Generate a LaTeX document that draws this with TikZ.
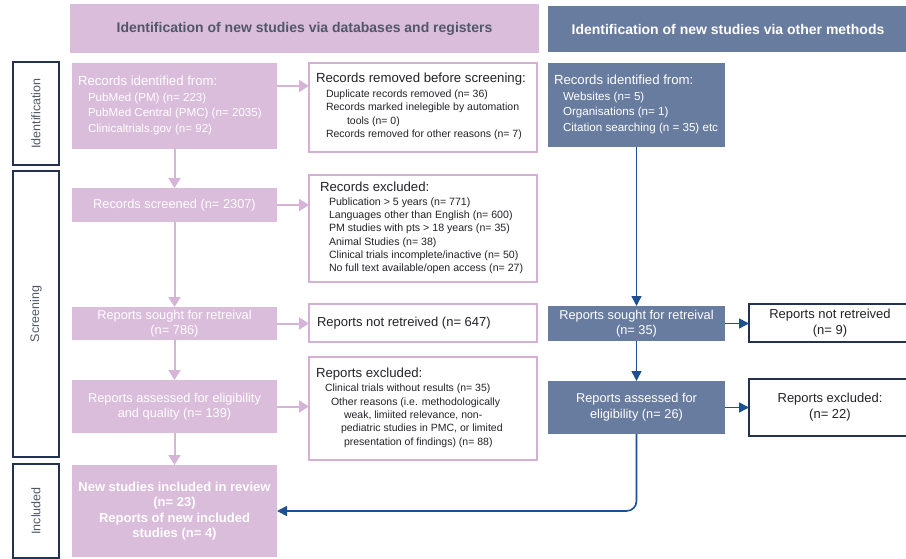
\documentclass[tikz,border=0pt]{standalone}
\usepackage{fontspec}
\setmainfont{Liberation Sans}
\usetikzlibrary{arrows.meta}
\definecolor{pinkfill}{RGB}{218,188,219}
\definecolor{pinkline}{RGB}{212,176,213}
\definecolor{pinkarrow}{RGB}{214,180,215}
\definecolor{slate}{RGB}{104,124,160}
\definecolor{navy}{RGB}{35,50,80}
\definecolor{arrowblue}{RGB}{28,80,145}
\definecolor{headtext}{RGB}{80,88,104}
\definecolor{bodytext}{RGB}{35,35,40}
\newcommand\fsz[2]{\fontsize{#1}{#2}\selectfont}
% left-aligned block of lines inside a fixed width
\newcommand\lblock[2]{\makebox[#1][l]{\begin{tabular}{@{}l@{}}#2\end{tabular}}}
\newcommand\hd[1]{\fsz{13.2}{15}#1}
\newcommand\sbi[2]{\hspace*{#1}#2}
\begin{document}
\begin{tikzpicture}[x=1pt,y=-1pt,
  every node/.style={inner sep=0pt, outer sep=0pt},
  pinkbox/.style={fill=pinkfill, text=white},
  wbox/.style={fill=white, draw=pinkline, line width=2.2pt, text=bodytext},
  bluebox/.style={fill=slate, text=white},
  bwbox/.style={fill=white, draw=navy, line width=2.2pt, text=bodytext},
  sidebox/.style={fill=white, draw=navy, line width=1.8pt, text=headtext, rotate=90, font=\fsz{12.5}{15}},
  parrow/.style={draw=pinkarrow, line width=2pt, -{Triangle[length=10pt,width=12pt]}},
  barrow/.style={draw=arrowblue, line width=1.6pt, -{Triangle[length=10pt,width=10pt]}},
  ]
\useasboundingbox (0,0) rectangle (906,559);

% headers
\node[fill=pinkfill, minimum width=469, minimum height=49, text=headtext, font=\bfseries\fsz{14}{17}] (hpink) at (304.5,29) {Identification of new studies via databases and registers};
\node[bluebox, minimum width=360, minimum height=46, font=\bfseries\fsz{14}{17}] (hblue) at (728,29) {Identification of new studies via other methods};

% side labels
\node[sidebox, minimum width=103, minimum height=46] (sid) at (36,113.5) {Identification};
\node[sidebox, minimum width=286, minimum height=46] (sscr) at (36,314) {Screening};
\node[sidebox, minimum width=94, minimum height=46] (sinc) at (36,511) {Included};

% pink column
\node[pinkbox, minimum width=205, minimum height=86, font=\fsz{11.6}{15.5}] (prec) at (174.5,106)
  {\lblock{193pt}{\hd{Records identified from:}\\
   \sbi{10pt}{PubMed (PM) (n= 223)}\\
   \sbi{10pt}{PubMed Central (PMC) (n= 2035)}\\
   \sbi{10pt}{Clinicaltrials.gov (n= 92)}}};
\node[pinkbox, minimum width=205, minimum height=34, align=center, font=\fsz{12.8}{15.5}] (pscr) at (174.5,205) {Records screened (n= 2307)};
\node[pinkbox, minimum width=205, minimum height=33, align=center, font=\fsz{12.8}{15.5}] (psought) at (174.5,323.5) {Reports sought for retreival\\(n= 786)};
\node[pinkbox, minimum width=205, minimum height=53, align=center, font=\fsz{12.8}{15.5}] (passess) at (174.5,406.5) {Reports assessed for eligibility\\and quality (n= 139)};
\node[pinkbox, minimum width=205, minimum height=92, align=center, font=\bfseries\fsz{13}{15.5}] (pnew) at (174.5,511) {New studies included in review\\(n= 23)\\Reports of new included\\studies (n= 4)};

% white boxes (pink border)
\node[wbox, minimum width=228, minimum height=89, font=\fsz{10.5}{13.5}] (rem) at (423,107.5)
  {\lblock{214pt}{\hd{Records removed before screening:}\\[1pt]
   \sbi{10pt}{Duplicate records removed (n= 36)}\\
   \sbi{10pt}{Records marked inelegible by automation}\\
   \sbi{31pt}{tools (n= 0)}\\
   \sbi{10pt}{Records removed for other reasons (n= 7)}}};
\node[wbox, minimum width=228, minimum height=107, font=\fsz{10.6}{13.2}] (exc1) at (423,228.5)
  {\raisebox{-2pt}{\lblock{206pt}{\hd{Records excluded:}\\[1pt]
   \sbi{9pt}{Publication > 5 years (n= 771)}\\
   \sbi{9pt}{Languages other than English (n= 600)}\\
   \sbi{9pt}{PM studies with pts > 18 years (n= 35)}\\
   \sbi{9pt}{Animal Studies (n= 38)}\\
   \sbi{9pt}{Clinical trials incomplete/inactive (n= 50)}\\
   \sbi{9pt}{No full text available/open access (n= 27)}}}};
\node[wbox, minimum width=228, minimum height=38, font=\fsz{13}{15}] (nr) at (423,323)
  {\lblock{212pt}{Reports not retreived (n= 647)}};
\node[wbox, minimum width=228, minimum height=103, font=\fsz{10.5}{13.3}] (exc2) at (423,408.5)
  {\lblock{214pt}{\hd{Reports excluded:}\\[1pt]
   \sbi{9pt}{Clinical trials without results (n= 35)}\\
   \sbi{15pt}{Other reasons (i.e. methodologically}\\
   \sbi{28pt}{weak, limiited relevance, non-}\\
   \sbi{25pt}{pediatric studies in PMC, or limited}\\
   \sbi{28pt}{presentation of findings) (n= 88)}}};

% blue column
\node[bluebox, minimum width=177, minimum height=84, font=\fsz{11.6}{15.5}] (brec) at (636.5,105)
  {\raisebox{-2pt}{\lblock{165pt}{\hd{Records identified from:}\\
   \sbi{9pt}{Websites (n= 5)}\\
   \sbi{9pt}{Organisations (n= 1)}\\
   \sbi{9pt}{Citation searching (n = 35) etc}}}};
\node[bluebox, minimum width=177, minimum height=35, align=center, font=\fsz{12.8}{15.5}] (bsought) at (636.5,323.5) {Reports sought for retreival\\(n= 35)};
\node[bluebox, minimum width=177, minimum height=53, align=center, font=\fsz{12.8}{16}] (bassess) at (636.5,407.5) {Reports assessed for\\eligibility (n= 26)};
\node[bwbox, minimum width=162, minimum height=38, align=center, font=\fsz{13}{15.5}] (bnr) at (830,323) {Reports not retreived\\(n= 9)};
\node[bwbox, minimum width=162, minimum height=57, align=center, font=\fsz{13}{16}] (bexc) at (830,407.5) {Reports excluded:\\(n= 22)};

% pink arrows
\coordinate (a1) at ([yshift=20pt]prec.east);
\draw[parrow] (a1) -- (a1 -| rem.west);
\draw[parrow] (prec.south) -- (pscr.north);
\draw[parrow] (pscr.east) -- (pscr.east -| exc1.west);
\draw[parrow] (pscr.south) -- (psought.north);
\draw[parrow] (psought.east) -- (psought.east -| nr.west);
\draw[parrow] (psought.south) -- (passess.north);
\draw[parrow] (passess.east) -- (passess.east -| exc2.west);
\draw[parrow] (passess.south) -- (pnew.north);

% blue arrows
\draw[barrow] (brec.south) -- (bsought.north);
\draw[barrow] (bsought.south) -- (bassess.north);
\draw[barrow] (bsought.east) -- (bsought.east -| bnr.west);
\draw[barrow] (bassess.east) -- (bassess.east -| bexc.west);
\draw[barrow, rounded corners=10pt] (bassess.south) |- (pnew.east);
\end{tikzpicture}
\end{document}
